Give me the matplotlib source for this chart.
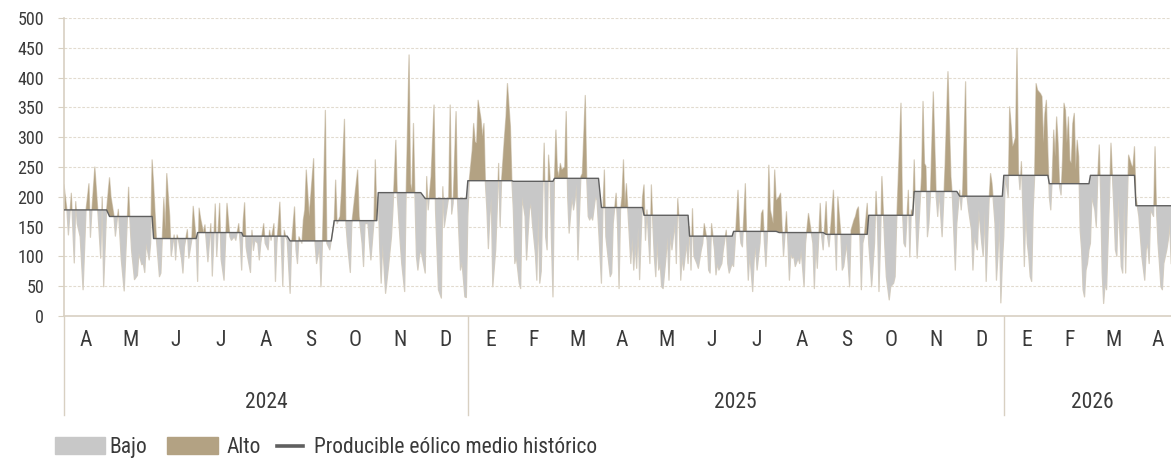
import numpy as np
import pandas as pd
import matplotlib
matplotlib.use("Agg")
import matplotlib.pyplot as plt
import matplotlib.dates as mdates
from matplotlib import font_manager
from matplotlib.patches import Rectangle
from matplotlib.lines import Line2D

START = "2024-04-01"
# (day offset from START, daily wind producible)
apr_jul_2024 = [(0,220),(2,178),(3,136),(5,206),(7,89),(8,192),(9,155),(11,133),(13,44),(15,178),
    (16,200),(17,222),(18,132),(19,178),(21,250),(23,178),(25,97),(26,200),(27,49),(29,178),
    (31,232),(32,200),(34,169),(35,134),(37,179),(39,95),(41,42),(43,155),(44,216),(45,155),
    (46,111),(48,61),(50,68),(51,105),(53,86),(54,88),(55,73),(56,122),(58,94),(59,122),
    (60,262),(61,222),(63,127),(65,66),(66,72),(68,197),(69,144),(70,239),(72,167),(73,100),
    (75,136),(76,94),(77,136),(78,127),(80,97),(81,72),(82,116),(84,145),(85,97),(87,128),
    (88,184),(90,128),(91,58),(92,181),(93,164),(95,140),(96,153),(98,91),(100,155),(101,67),
    (103,188),(104,100),(106,189),(107,95)]
jul_oct_2024 = [(109,60),(111,189),(113,133),(114,127),(116,133),(117,127),(119,155),(120,122),
    (121,77),(122,158),(123,190),(124,116),(125,100),(127,73),(128,144),(129,110),(130,127),
    (132,122),(133,94),(134,122),(136,155),(137,122),(139,111),(140,144),(141,127),(143,155),
    (144,58),(145,122),(147,191),(148,122),(149,50),(150,144),(151,133),(152,127),(154,38),
    (155,122),(157,183),(158,111),(159,88),(160,133),(162,122),(163,161),(164,178),(165,245),
    (167,167),(168,200),(170,264),(171,122),(172,88),(174,116),(175,49),(176,122),(178,345),
    (179,122),(181,111),(182,127),(184,155),(185,228),(186,155),(188,167),(189,209),(191,330),
    (192,155),(193,122),(195,73),(196,155),(198,200),(200,245),(201,167),(203,122),(204,83),
    (205,155),(207,155),(208,122),(209,94),(211,155),(212,262),(213,178)]
nov24_feb25 = [(214,200),(215,115),(216,55),(217,122),(219,38),(221,83),(223,133),(224,178),
    (226,295),(227,200),(229,122),(230,88),(232,41),(233,206),(235,438),(236,222),(237,211),
    (238,323),(239,200),(240,100),(241,77),(242,100),(243,111),(246,72),(247,234),(248,178),
    (250,234),(252,354),(253,178),(254,111),(255,44),(257,30),(258,217),(259,150),(260,167),
    (262,200),(263,354),(264,171),(265,189),(267,343),(268,195),(269,133),(270,77),(271,91),
    (273,32),(274,31),(275,167),(276,228),(278,278),(279,323),(280,292),(281,290),(282,362),
    (284,330),(285,301),(286,323),(287,222),(288,178),(289,113),(290,167),(291,200),(292,49),
    (294,111),(295,178),(296,256),(297,150),(298,228),(300,301),(301,334),(302,390),(304,318),
    (305,228),(306,178),(307,88),(308,100),(310,55),(311,46),(312,200),(314,167),(315,94),
    (317,178),(318,189),(319,155),(321,105),(322,60),(323,178)]
feb_jun_2025 = [(324,55),(325,75),(326,200),(327,290),(328,133),(329,111),(330,270),(331,233),
    (332,122),(333,32),(334,230),(335,312),(336,245),(337,234),(338,256),(339,245),(341,250),
    (342,343),(343,200),(344,139),(346,200),(347,178),(348,194),(349,222),(350,94),(351,167),
    (352,234),(353,239),(355,370),(356,230),(357,167),(358,161),(359,167),(360,161),(362,200),
    (363,194),(364,150),(366,55),(367,178),(368,245),(369,133),(371,88),(372,66),(373,72),
    (374,155),(376,206),(377,150),(378,46),(379,178),(380,200),(381,262),(382,183),(383,222),
    (384,178),(386,88),(387,133),(388,77),(389,122),(390,80),(391,150),(392,61),(394,200),
    (395,220),(396,127),(397,178),(399,88),(400,220),(401,155),(402,100),(403,66),(404,127),
    (405,77),(406,88),(407,49),(408,46),(410,100),(411,133),(412,60),(413,139),(414,111),
    (416,155),(417,88),(418,197),(419,155),(420,60),(421,100),(422,77),(424,122),(425,88),
    (426,150),(427,77),(428,180),(429,100),(431,88)]
jun_sep_2025 = [(432,80),(434,111),(435,122),(436,155),(438,127),(439,77),(440,72),(441,155),
    (443,111),(444,69),(445,88),(446,77),(448,88),(449,111),(451,144),(452,88),(453,72),
    (455,88),(456,83),(457,122),(459,211),(460,150),(461,122),(462,116),(464,222),(465,122),
    (466,60),(467,105),(469,41),(470,94),(471,116),(472,77),(474,122),(475,172),(476,178),
    (477,122),(478,83),(479,133),(480,253),(481,178),(483,155),(484,245),(485,194),(487,200),
    (488,206),(489,150),(490,100),(492,175),(493,122),(494,60),(495,105),(496,97),(497,100),
    (498,83),(500,97),(501,88),(502,111),(504,49),(505,122),(507,172),(508,155),(510,122),
    (511,46),(512,122),(513,80),(515,189),(516,133),(517,111),(519,192),(520,133),(521,116),
    (522,144),(524,211),(525,139),(526,77),(527,200),(529,139),(530,77),(531,83),(533,122),
    (534,88),(535,49),(536,144),(538,161),(539,167),(540,178),(541,183),(542,133),(543,44)]
sep25_jan26 = [(544,122),(545,133),(547,189),(548,122),(549,88),(550,49),(552,122),(553,209),
    (554,155),(555,41),(556,122),(557,234),(559,116),(560,66),(562,27),(563,49),(565,55),
    (566,66),(567,155),(568,222),(570,357),(571,178),(572,122),(573,116),(575,211),(576,99),
    (577,178),(578,172),(579,262),(580,167),(581,97),(583,189),(584,234),(585,360),(586,256),
    (587,251),(588,133),(589,155),(590,200),(591,290),(592,376),(594,200),(595,167),(596,209),
    (598,133),(599,189),(600,251),(602,410),(604,234),(605,200),(607,77),(608,155),(610,211),
    (611,178),(612,211),(614,393),(615,200),(616,178),(618,144),(619,77),(620,133),(622,111),
    (623,178),(625,122),(626,100),(627,178),(628,58),(630,194),(631,239),(632,222),(634,155),
    (635,60),(636,100),(637,167),(638,22),(639,88),(640,133),(641,234),(643,200),(644,351)]
jan_apr_2026 = [(645,320),(646,284),(647,290),(648,300),(649,449),(650,244),(651,212),(652,259),
    (653,178),(654,83),(655,178),(656,122),(657,100),(658,66),(659,58),(660,178),(661,234),
    (662,390),(663,379),(665,373),(666,368),(667,290),(668,340),(669,362),(670,278),(671,200),
    (672,178),(673,234),(674,312),(675,267),(676,334),(677,290),(678,217),(679,203),(680,261),
    (681,357),(682,345),(683,290),(684,334),(685,261),(686,256),(687,323),(688,340),(689,245),
    (690,295),(691,267),(692,144),(693,111),(694,44),(695,32),(696,77),(697,88),(698,111),
    (699,122),(700,200),(702,178),(703,150),(704,234),(705,287),(706,200),(707,72),(708,21),
    (709,55),(710,44),(711,122),(712,200),(713,290),(715,178),(716,111),(717,100),(718,200),
    (720,83),(721,72),(722,200),(723,72),(724,178),(725,270),(727,253),(728,250),(729,284),
    (730,200),(731,183),(732,167),(733,133),(734,100),(736,60),(737,111),(738,122),(739,88),
    (740,178),(742,167),(743,284),(744,178),(745,122),(746,88),(747,49),(748,44),(749,88),
    (751,111),(752,127),(753,155),(754,88)]

# monthly historical mean (Apr 2024 ... Apr 2026)
hist_mean = [178, 167, 130, 140, 134, 126, 160, 207, 197,
             227, 226, 231, 182, 169, 134, 142, 140, 137, 169, 209, 201,
             236, 222, 236, 185]
month_labels = ["A", "M", "J", "J", "A", "S", "O", "N", "D",
                "E", "F", "M", "A", "M", "J", "J", "A", "S", "O", "N", "D",
                "E", "F", "M", "A"]
year_labels = ["2024", "2025", "2026"]
y_ticks = [0, 50, 100, 150, 200, 250, 300, 350, 400, 450, 500]
legend_labels = ["Bajo", "Alto", "Producible eólico medio histórico"]

GRAY = "#c8c8c8"
BROWN = "#b3a283"
EDGE = "#d8cfbf"
MEAN = "#5f5f5f"
BEIGE = "#d8d0c2"
GRID = "#e2dbcf"
TXT = "#3a3a3a"

# font: prefer an installed condensed face (the original uses a condensed sans)
pref = ["Liberation Sans Narrow", "Roboto Condensed", "DejaVu Sans", "Noto Sans",
        "Open Sans", "Roboto", "Lato", "Inter"]
cond = None
for name in pref:
    for f in font_manager.fontManager.ttflist:
        if (f.name == name and f.style == "normal"
                and str(f.weight) in ("400", "normal", "regular", "book")
                and (str(f.stretch) in ("condensed", "semi-condensed")
                     or "Narrow" in f.name or "Condensed" in f.name)):
            cond = (f.name, str(f.stretch))
            break
    if cond:
        break
if cond:
    plt.rcParams["font.family"] = [cond[0], "DejaVu Sans"]
    plt.rcParams["font.stretch"] = cond[1]
    fs_tick, fs_lab = 13, 15.5
else:
    plt.rcParams["font.family"] = ["DejaVu Sans"]
    fs_tick, fs_lab = 11, 13

records = (apr_jul_2024 + jul_oct_2024 + nov24_feb25 + feb_jun_2025 +
           jun_sep_2025 + sep25_jan26 + jan_apr_2026)
days = np.array([r[0] for r in records])
vals = np.array([r[1] for r in records], dtype=float)
start = pd.Timestamp(START)
dates = start + pd.to_timedelta(days, unit="D")
x = mdates.date2num(dates.to_pydatetime())
mi = np.asarray((dates.year - 2024) * 12 + dates.month - 4)
ref = np.array(hist_mean, dtype=float)[mi]

W, H = 1171, 459
fig = plt.figure(figsize=(W / 100, H / 100), dpi=100)
month_starts = pd.date_range(start, periods=len(month_labels) + 1, freq="MS")
xm = mdates.date2num(month_starts.to_pydatetime())

AX_L, AX_R, AX_T, AX_B = 64, 1180, 18, 316
ax = fig.add_axes([AX_L / W, (H - AX_B) / H, (AX_R - AX_L) / W, (AX_B - AX_T) / H])
ax.set_xlim(xm[0], xm[-1])
ax.set_ylim(0, 500)

def ay(py):
    return (AX_B - py) / (AX_B - AX_T)

# grid
for yv in y_ticks[1:]:
    ax.axhline(yv, color=GRID, lw=0.8, ls=(0, (2.5, 1.5)), zorder=0)

ax.plot(x, vals, color=EDGE, lw=0.9, zorder=1)
ax.fill_between(x, vals, ref, where=vals < ref, interpolate=True,
                color=GRAY, lw=0, zorder=2)
ax.fill_between(x, vals, ref, where=vals > ref, interpolate=True,
                color=BROWN, lw=0, zorder=2)
ax.plot(x, ref, color=MEAN, lw=1.0, zorder=3)

ax.set_yticks(y_ticks)
ax.tick_params(axis="y", length=4.3, width=0.8, color=BEIGE, pad=10,
               labelsize=fs_tick, labelcolor=TXT)
ax.set_xticks([])
for s in ["top", "right"]:
    ax.spines[s].set_visible(False)
for s in ["left", "bottom"]:
    ax.spines[s].set_color(BEIGE)
    ax.spines[s].set_linewidth(1.2)

trans = ax.get_xaxis_transform()
for i, lab in enumerate(month_labels):
    xc = (xm[i] + xm[i + 1]) / 2
    ax.text(xc, ay(346.5), lab, transform=trans, ha="center", va="baseline",
            fontsize=fs_lab, color=TXT, clip_on=False)

year_edges = [xm[0]] + [mdates.date2num(pd.Timestamp(f"{y}-01-01").to_pydatetime())
                        for y in (2025, 2026)] + [xm[-1]]
for i, lab in enumerate(year_labels):
    xc = (year_edges[i] + year_edges[i + 1]) / 2
    ax.text(xc, ay(408.3), lab, transform=trans, ha="center", va="baseline",
            fontsize=fs_lab, color=TXT, clip_on=False)
for xe in year_edges:
    ax.add_line(Line2D([xe, xe], [0, ay(415)], transform=trans, color=BEIGE,
                       lw=1.0, clip_on=False))

# legend
def fx(px):
    return px / W

def fy(py):
    return 1 - py / H

LEG_BASE = 453.0
fig.add_artist(Rectangle((fx(55), fy(LEG_BASE + 0.5)), 50 / W, 17 / H, color=GRAY,
                         transform=fig.transFigure))
fig.text(fx(109), fy(LEG_BASE), legend_labels[0], ha="left", va="baseline",
         fontsize=fs_lab, color=TXT)
fig.add_artist(Rectangle((fx(167), fy(LEG_BASE + 0.5)), 51 / W, 17 / H, color=BROWN,
                         transform=fig.transFigure))
fig.text(fx(227), fy(LEG_BASE), legend_labels[1], ha="left", va="baseline",
         fontsize=fs_lab, color=TXT)
fig.add_artist(Line2D([fx(277), fx(303)], [fy(LEG_BASE - 7), fy(LEG_BASE - 7)],
                      color=MEAN, lw=2.6, transform=fig.transFigure))
fig.text(fx(314), fy(LEG_BASE), legend_labels[2], ha="left", va="baseline",
         fontsize=fs_lab, color=TXT)

fig.savefig("out.png", dpi=100)
